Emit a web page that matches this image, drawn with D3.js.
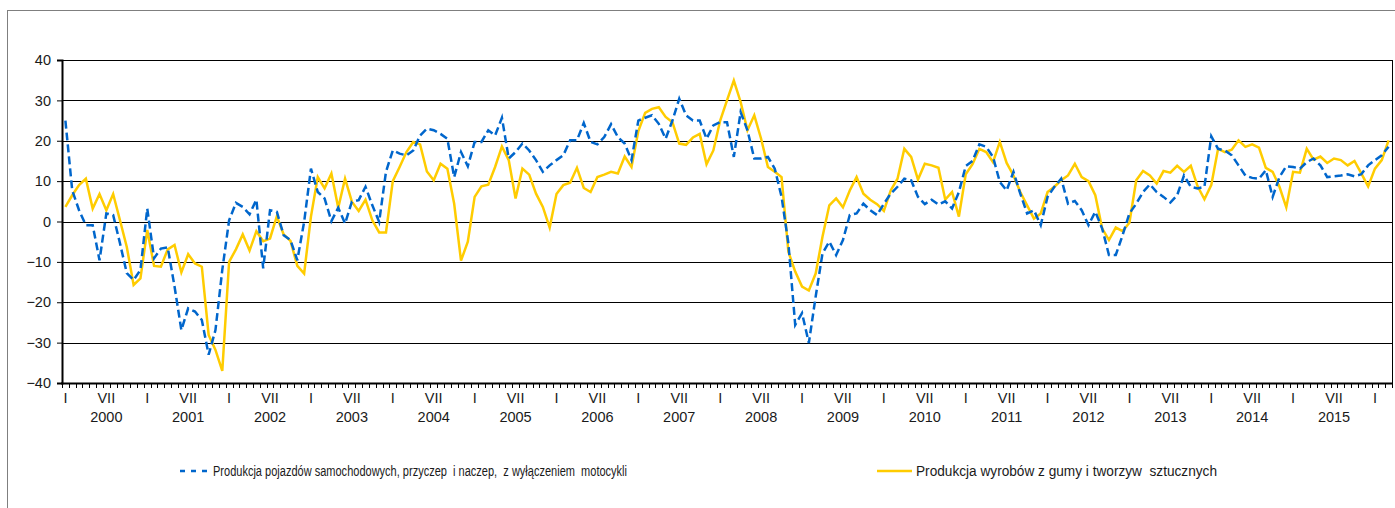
<!DOCTYPE html>
<html lang="pl">
<head>
  <meta charset="UTF-8">
  <title>Produkcja</title>
  <script src="https://cdnjs.cloudflare.com/ajax/libs/d3/7.8.5/d3.min.js"></script>
  <style>
    body { margin: 0; background: #fff; }
    text { font-family: "Liberation Sans", Arial, sans-serif; fill: #1a1a1a; }
    .grid line { stroke: #000; stroke-width: 1; shape-rendering: crispEdges; }
    .line { fill: none; stroke-width: 2.5px; stroke-linejoin: miter; }
  </style>
</head>
<body>
<div id="chart"></div>
<script>
  // years on the axis, months Jan 2000 .. Mar 2016
  var years = [2000, 2001, 2002, 2003, 2004, 2005, 2006, 2007, 2008, 2009, 2010, 2011, 2012, 2013, 2014, 2015];
  var monthLabels = {0: "I", 6: "VII"};
  var yTicks = [-40, -30, -20, -10, 0, 10, 20, 30, 40];

  var seriesNames = [
    "Produkcja pojazdów samochodowych, przyczep  i naczep,  z wyłączeniem  motocykli",
    "Produkcja wyrobów z gumy i tworzyw  sztucznych"
  ];

  // pojazdy (blue, dashed)
  var vehicles = [
    25, 7.7, 2.8, -0.9, -0.9, -9.6, 2, 1.6, -5.4, -12.8, -14.5, -12,
    3.2, -9.1, -6.7, -6.4, -16.1, -26.9, -21.5, -22.3, -24.4, -33, -26.9, -12,
    0.3, 4.6, 3.6, 1.8, 5.4, -11.6, 2.8, 2.4, -3.4, -4.6, -9.6, -0.1,
    13.1, 7.3, 5.7, 0.1, 3.4, -0.5, 4.9, 5.3, 8.6, 4, -0.1, 12.3,
    17.6, 16.8, 16.4, 17.6, 21.3, 23, 22.6, 21.7, 20.5, 11, 17.2, 13.7,
    19.7, 19.7, 22.6, 21.3, 25.7, 15.6, 17.2, 19.3, 17.6, 15.2, 12.3, 13.9,
    15.2, 16.4, 20.1, 20.1, 24.4, 19.7, 19.1, 20.9, 24.1, 20.9, 19.3, 15.2,
    25, 25.7, 26.3, 24.2, 20.5, 25, 30.4, 26.3, 25, 25, 20.5, 23.8,
    24.6, 24.6, 16, 27.1, 22.6, 15.6, 15.6, 16, 13.1, 6.1, -5.4, -25.6,
    -22.7, -30.1, -18.6, -7.9, -5, -8.3, -4.6, 1.6, 2, 4.4, 2.8, 1.6,
    4.4, 6.9, 8.6, 10.6, 10.2, 6.1, 4.3, 5.4, 4.2, 5, 3.2, 7.3,
    13.7, 15, 19.1, 18.5, 16, 9.8, 7.7, 12.3, 6.9, 2, 2.8, -0.9,
    6.1, 8.6, 10.6, 4.4, 5.1, 2.8, -0.9, 2.4, -1.7, -8.3, -8.3, -3.4,
    2, 4.4, 7.3, 9.2, 7.3, 6.1, 4.7, 6.5, 11.4, 8.6, 8.2, 8.6,
    21.1, 18, 17.6, 16.4, 13.9, 11.4, 10.8, 10.6, 12.7, 6.1, 11, 13.7,
    13.5, 13.1, 14.7, 15.6, 13.9, 11, 11.2, 11.4, 11.7, 11.2, 11.7, 13.9,
    15.2, 16.4, 18.5
  ];

  // guma i tworzywa (yellow, solid)
  var rubber = [
    3.6, 6.5, 9, 10.6, 3.2, 6.8, 2.8, 6.8, 0.3, -6.3, -15.7, -14.1,
    -2.1, -11, -11.2, -6.9, -5.8, -12.6, -8.1, -10.4, -11.2, -28.1, -31.8, -37,
    -10, -6.9, -3.2, -7.2, -2.4, -4.9, -4.2, 1.3, -3.2, -4.8, -11, -12.9,
    1.2, 11, 8.2, 11.9, 3.4, 10.6, 4.9, 2.6, 5.4, 0.3, -2.7, -2.7,
    10, 13.5, 17.2, 19.7, 19.1, 12.4, 10.2, 14.3, 13.1, 4.4, -9.7, -5,
    6.1, 8.7, 9.1, 13.5, 18.6, 15.2, 5.7, 13.1, 11.6, 6.9, 3.6, -1.5,
    6.8, 9, 9.6, 13.3, 8.3, 7.3, 11, 11.6, 12.3, 11.9, 16.1, 13.5,
    22.4, 26.9, 27.9, 28.3, 25.9, 24.6, 19.3, 19, 20.8, 21.7, 14.2, 17.6,
    25, 30, 34.9, 29.6, 22.6, 26.3, 20.5, 13.5, 12.3, 11, -7.5, -12.4,
    -16.1, -17.1, -12.9, -3.8, 4, 5.7, 3.5, 7.7, 11, 6.9, 5.4, 4.3,
    2.6, 7.7, 10.6, 18, 16, 10.4, 14.3, 13.9, 13.3, 5.4, 7.3, 1.2,
    11.7, 14.2, 18, 17.2, 14.7, 19.7, 14.5, 11.4, 7.3, 4, 0.7, 2,
    7.3, 8.6, 10.2, 11.4, 14.3, 11, 10, 6.5, -1.7, -4.6, -1.5, -2.4,
    -0.3, 10.2, 12.5, 11.4, 9.4, 12.5, 12.1, 13.8, 12.3, 13.8, 8.7, 5.5,
    9, 18, 17.2, 17.8, 20.1, 18.5, 19.1, 18.3, 13.3, 12.3, 8.6, 3.5,
    12.3, 12.1, 18, 15.3, 16.1, 14.5, 15.6, 15.2, 13.9, 15, 11.9, 8.7,
    13.1, 15.2, 20.1
  ];

  var colors = ["#0066cc", "#ffcc00"];
  var months = d3.range(vehicles.length);

  var W = 1395, H = 508;
  var pLeft = 62, pRight = 1392, pTop = 60, pBottom = 383;

  var svg = d3.select("#chart").append("svg")
      .attr("width", W)
      .attr("height", H);

  // outer chart frame
  svg.append("rect")
      .attr("x", 7.5).attr("y", 10.5)
      .attr("width", W + 20).attr("height", H + 20)
      .attr("fill", "none")
      .attr("stroke", "#7f7f7f");

  var x = d3.scaleBand().domain(months).range([pLeft, pRight]).paddingInner(0).paddingOuter(0);
  var y = d3.scaleLinear().domain([-40, 40]).range([pBottom, pTop]);
  var cx = function(i) { return x(i) + x.bandwidth() / 2; };

  // gridlines + right border
  var grid = svg.append("g").attr("class", "grid");
  grid.selectAll("line.h")
      .data(yTicks.filter(function(d) { return d > -40; }))
    .enter().append("line")
      .attr("x1", pLeft).attr("x2", pRight)
      .attr("y1", function(d) { return Math.round(y(d)) + 0.5; })
      .attr("y2", function(d) { return Math.round(y(d)) + 0.5; });
  grid.append("line")
      .attr("x1", pRight + 0.5).attr("x2", pRight + 0.5)
      .attr("y1", pTop).attr("y2", pBottom);

  // y axis
  var yAxis = svg.append("g")
      .attr("transform", "translate(" + pLeft + ",0)")
      .call(d3.axisLeft(y).tickValues(yTicks).tickSize(5).tickPadding(6));
  yAxis.select(".domain").attr("stroke", "#000").attr("stroke-width", 2);
  yAxis.selectAll("text").style("font-size", "14.5px").attr("fill", "#1a1a1a");

  // x axis: ticks at month boundaries
  var xg = svg.append("g");
  xg.append("line")
      .attr("x1", pLeft - 1).attr("x2", pRight)
      .attr("y1", pBottom + 0.5).attr("y2", pBottom + 0.5)
      .attr("stroke", "#000").attr("stroke-width", 2);
  xg.selectAll("line.tick")
      .data(months.concat([months.length]))
    .enter().append("line")
      .attr("x1", function(i) { return Math.round(pLeft + i * x.bandwidth()) + 0.5; })
      .attr("x2", function(i) { return Math.round(pLeft + i * x.bandwidth()) + 0.5; })
      .attr("y1", pBottom).attr("y2", pBottom + 5)
      .attr("stroke", "#000");
  xg.selectAll("text.m")
      .data(months.filter(function(i) { return monthLabels[i % 12]; }))
    .enter().append("text")
      .attr("x", cx)
      .attr("y", 403)
      .attr("text-anchor", "middle")
      .style("font-size", "14.5px")
      .text(function(i) { return monthLabels[i % 12]; });
  xg.selectAll("text.y")
      .data(years)
    .enter().append("text")
      .attr("x", function(d, k) { return cx(k * 12 + 6); })
      .attr("y", 422)
      .attr("text-anchor", "middle")
      .style("font-size", "14.5px")
      .text(function(d) { return d; });

  // series lines
  var line = function(arr) {
    return d3.line()
        .x(function(d, i) { return cx(i); })
        .y(function(d) { return y(d); })(arr);
  };
  svg.append("path")
      .attr("class", "line")
      .attr("d", line(rubber))
      .attr("stroke", colors[1]);
  svg.append("path")
      .attr("class", "line")
      .attr("d", line(vehicles))
      .attr("stroke", colors[0])
      .attr("stroke-dasharray", "8,4");

  // legend (first label is squeezed horizontally in the original)
  var lg = svg.append("g");
  lg.append("line")
      .attr("x1", 180).attr("x2", 210).attr("y1", 471).attr("y2", 471)
      .attr("stroke", colors[0]).attr("stroke-width", 2.5)
      .attr("stroke-dasharray", "5,6");
  lg.append("text")
      .attr("x", 213).attr("y", 476)
      .style("font-size", "14px")
      .style("white-space", "pre")
      .attr("textLength", 414)
      .attr("lengthAdjust", "spacingAndGlyphs")
      .text(seriesNames[0]);
  lg.append("line")
      .attr("x1", 877).attr("x2", 912).attr("y1", 471).attr("y2", 471)
      .attr("stroke", colors[1]).attr("stroke-width", 2.5);
  lg.append("text")
      .attr("x", 916).attr("y", 476)
      .style("font-size", "14px")
      .style("white-space", "pre")
      .attr("textLength", 301)
      .attr("lengthAdjust", "spacingAndGlyphs")
      .text(seriesNames[1]);
</script>
</body>
</html>
